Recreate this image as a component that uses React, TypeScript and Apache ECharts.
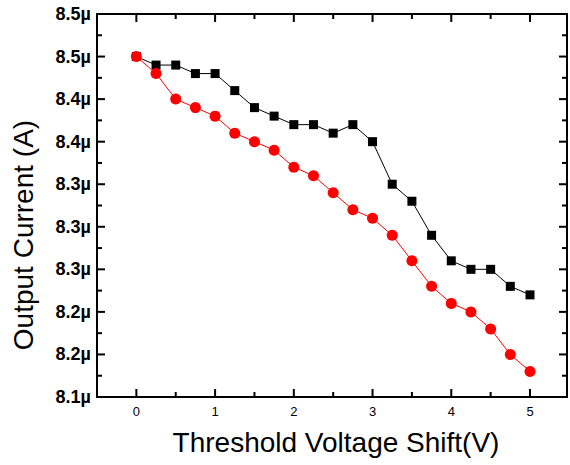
import React, { useEffect, useRef } from "react";
import * as echarts from "echarts";

// Threshold voltage shift (V)
const shiftVolts = [0, 0.25, 0.5, 0.75, 1, 1.25, 1.5, 1.75, 2, 2.25, 2.5, 2.75, 3, 3.25, 3.5, 3.75, 4, 4.25, 4.5, 4.75, 5];

// Output current (µA) for the two circuits
const currentSquares = [8.46, 8.452, 8.452, 8.444, 8.444, 8.428, 8.412, 8.404, 8.396, 8.396, 8.388, 8.396, 8.38, 8.34, 8.324, 8.292, 8.268, 8.26, 8.26, 8.244, 8.236];
const currentCircles = [8.46, 8.444, 8.42, 8.412, 8.404, 8.388, 8.38, 8.372, 8.356, 8.348, 8.332, 8.316, 8.308, 8.292, 8.268, 8.244, 8.228, 8.22, 8.204, 8.18, 8.164];

// Axis ticks
const xMajorTicks = [0, 1, 2, 3, 4, 5];
const xMinorTicks = [0.5, 1.5, 2.5, 3.5, 4.5];
const yMajorTicks = [8.14, 8.18, 8.22, 8.26, 8.3, 8.34, 8.38, 8.42, 8.46, 8.5];
const yMinorTicks = [8.16, 8.2, 8.24, 8.28, 8.32, 8.36, 8.4, 8.44, 8.48];

const X_MIN = -0.5;
const X_MAX = 5.47;
const Y_MIN = 8.14;
const Y_MAX = 8.5;

const FONT = "'Liberation Sans', Arial, sans-serif";
const INK = "#000000";

const frameLine = { show: true, onZero: false, lineStyle: { color: INK, width: 2 } };

// One inward tick per value on a frame edge, placed through the cartesian scales.
function tickSeries(values: number[], edge: "bottom" | "top" | "left" | "right", len: number) {
  const vertical = edge === "bottom" || edge === "top";
  return {
    type: "custom",
    xAxisIndex: 0,
    yAxisIndex: 0,
    silent: true,
    z: 5,
    data: values.map((v) =>
      vertical ? [v, edge === "bottom" ? Y_MIN : Y_MAX] : [edge === "left" ? X_MIN : X_MAX, v]
    ),
    renderItem: (_params: any, api: any) => {
      const p = api.coord([api.value(0), api.value(1)]);
      let x2 = p[0];
      let y2 = p[1];
      if (edge === "bottom") y2 -= len;
      if (edge === "top") y2 += len;
      if (edge === "left") x2 += len;
      if (edge === "right") x2 -= len;
      return {
        type: "line",
        shape: { x1: p[0], y1: p[1], x2, y2 },
        style: { stroke: INK, lineWidth: 2 },
      };
    },
  };
}

export default function App() {
  const ref = useRef<HTMLDivElement>(null);

  useEffect(() => {
    if (!ref.current) return;
    const chart = echarts.init(ref.current, undefined, { renderer: "svg" });
    chart.setOption({
      animation: false,
      backgroundColor: "#ffffff",
      grid: { left: 97, top: 14, right: 3, bottom: 68, containLabel: false },
      xAxis: [
        {
          type: "value",
          position: "bottom",
          min: X_MIN,
          max: X_MAX,
          axisLine: frameLine,
          axisTick: { show: false },
          axisLabel: { show: true, customValues: xMajorTicks, margin: 8, color: INK, fontSize: 13, fontFamily: FONT },
          splitLine: { show: false },
        },
        {
          type: "value",
          position: "top",
          min: X_MIN,
          max: X_MAX,
          axisLine: frameLine,
          axisTick: { show: false },
          axisLabel: { show: false },
          splitLine: { show: false },
        },
      ],
      yAxis: [
        {
          type: "value",
          position: "left",
          min: Y_MIN,
          max: Y_MAX,
          axisLine: frameLine,
          axisTick: { show: false },
          axisLabel: {
            show: true,
            customValues: yMajorTicks,
            margin: 6,
            color: INK,
            fontSize: 18,
            fontWeight: "bold",
            fontFamily: FONT,
            formatter: (v: number) => v.toFixed(1) + "µ",
          },
          splitLine: { show: false },
        },
        {
          type: "value",
          position: "right",
          min: Y_MIN,
          max: Y_MAX,
          axisLine: frameLine,
          axisTick: { show: false },
          axisLabel: { show: false },
          splitLine: { show: false },
        },
      ],
      graphic: [
        {
          type: "text",
          x: 336,
          y: 442,
          style: {
            text: "Threshold Voltage Shift(V)",
            font: `28px ${FONT}`,
            fill: INK,
            textAlign: "center",
            textVerticalAlign: "middle",
          },
        },
        {
          type: "text",
          x: 23,
          y: 235,
          rotation: Math.PI / 2,
          style: {
            text: "Output Current (A)",
            font: `28px ${FONT}`,
            fill: INK,
            textAlign: "center",
            textVerticalAlign: "middle",
          },
        },
      ],
      series: [
        tickSeries(xMajorTicks, "bottom", 8),
        tickSeries(xMajorTicks, "top", 8),
        tickSeries(xMinorTicks, "bottom", 5),
        tickSeries(xMinorTicks, "top", 5),
        tickSeries(yMajorTicks, "left", 8),
        tickSeries(yMajorTicks, "right", 8),
        tickSeries(yMinorTicks, "left", 5),
        tickSeries(yMinorTicks, "right", 5),
        {
          type: "line",
          xAxisIndex: 0,
          yAxisIndex: 0,
          data: shiftVolts.map((x, i) => [x, currentSquares[i]]),
          symbol: "rect",
          symbolSize: 9,
          itemStyle: { color: INK },
          lineStyle: { color: INK, width: 1 },
          z: 6,
        },
        {
          type: "line",
          xAxisIndex: 0,
          yAxisIndex: 0,
          data: shiftVolts.map((x, i) => [x, currentCircles[i]]),
          symbol: "circle",
          symbolSize: 11,
          itemStyle: { color: "#ff0000" },
          lineStyle: { color: "#ff0000", width: 1 },
          z: 7,
        },
      ],
    });
    return () => chart.dispose();
  }, []);

  return (
    <div
      ref={ref}
      style={{ position: "absolute", left: 0, top: 0, width: 570, height: 465, background: "#ffffff" }}
    />
  );
}
